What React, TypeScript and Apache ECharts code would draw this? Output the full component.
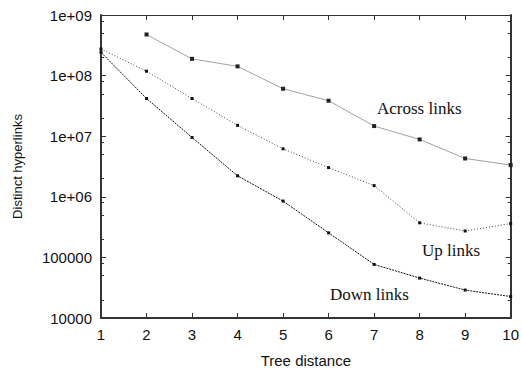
import React, { useEffect, useRef } from "react";
import * as echarts from "echarts";

const distances = [1, 2, 3, 4, 5, 6, 7, 8, 9, 10];
const acrossLinks: (number | null)[] = [null, 4.77e8, 1.89e8, 1.42e8, 6.07e7, 3.85e7, 1.47e7, 8.85e6, 4.29e6, 3.34e6];
const upLinks = [2.74e8, 1.18e8, 4.19e7, 1.51e7, 6.2e6, 3.03e6, 1.53e6, 3.72e5, 2.73e5, 3.62e5];
const downLinks = [2.42e8, 4.19e7, 9.53e6, 2.22e6, 8.5e5, 2.54e5, 7.66e4, 4.56e4, 2.89e4, 2.26e4];
const yTickLabels: Record<string, string> = {
  "10000": "10000",
  "100000": "100000",
  "1000000": "1e+06",
  "10000000": "1e+07",
  "100000000": "1e+08",
  "1000000000": "1e+09",
};
const minorMultipliers = [2, 5, 8];
const decades = [4, 5, 6, 7, 8];

const minorLogValues: number[] = [];
decades.forEach((d) => minorMultipliers.forEach((m) => minorLogValues.push(d + Math.log10(m))));

const pairs = (vals: (number | null)[]) =>
  distances.map((x, i) => [x, vals[i]]).filter((p) => p[1] !== null);

export default function App() {
  const ref = useRef<HTMLDivElement>(null);
  useEffect(() => {
    if (!ref.current) return;
    const chart = echarts.init(ref.current, null, { renderer: "svg" });
    const sans = "Liberation Sans, Arial, sans-serif";
    const serif = "Liberation Serif, Times New Roman, serif";
    const axisColor = "#333";
    const labelStyle = { color: "#111", fontFamily: sans, fontSize: 15 };
    const minorAxis = (pos: "left" | "right") => ({
      type: "value",
      min: 4,
      max: 9,
      position: pos,
      axisLine: { show: false },
      axisLabel: { show: false },
      splitLine: { show: false },
      axisTick: {
        show: true,
        inside: true,
        length: 3,
        customValues: minorLogValues,
        lineStyle: { color: axisColor, width: 1 },
      },
    });
    chart.setOption({
      animation: false,
      backgroundColor: "#fff",
      grid: { left: 101, right: 9, top: 15, bottom: 47, containLabel: false },
      xAxis: [
        {
          type: "value",
          min: 1,
          max: 10,
          interval: 1,
          position: "bottom",
          name: "Tree distance",
          nameLocation: "middle",
          nameGap: 35,
          nameTextStyle: labelStyle,
          axisLine: { lineStyle: { color: axisColor, width: 2 } },
          axisTick: { inside: true, length: 5, lineStyle: { color: axisColor, width: 1 } },
          axisLabel: { ...labelStyle, margin: 9 },
          splitLine: { show: false },
        },
        {
          type: "value",
          min: 1,
          max: 10,
          interval: 1,
          position: "top",
          axisLine: { lineStyle: { color: axisColor, width: 1.2 } },
          axisTick: { inside: true, length: 5, lineStyle: { color: axisColor, width: 1 } },
          axisLabel: { show: false },
          splitLine: { show: false },
        },
      ],
      yAxis: [
        {
          type: "log",
          logBase: 10,
          min: 1e4,
          max: 1e9,
          position: "left",
          name: "Distinct hyperlinks",
          nameLocation: "middle",
          nameGap: 77,
          nameRotate: 90,
          nameTextStyle: { ...labelStyle, fontSize: 13 },
          axisLine: { show: true, lineStyle: { color: axisColor, width: 2 } },
          axisTick: { show: true, inside: true, length: 5, lineStyle: { color: axisColor, width: 1 } },
          axisLabel: {
            ...labelStyle,
            margin: 9,
            formatter: (v: number) => yTickLabels[String(Math.round(v))] ?? "",
          },
          splitLine: { show: false },
        },
        {
          type: "log",
          logBase: 10,
          min: 1e4,
          max: 1e9,
          position: "right",
          axisLine: { show: true, lineStyle: { color: axisColor, width: 2 } },
          axisTick: { show: true, inside: true, length: 5, lineStyle: { color: axisColor, width: 1 } },
          axisLabel: { show: false },
          splitLine: { show: false },
        },
        minorAxis("left"),
        minorAxis("right"),
      ],
      graphic: [
        { type: "text", left: 377, top: 100, style: { text: "Across links", font: `17px ${serif}`, fill: "#111" } },
        { type: "text", left: 422, top: 242, style: { text: "Up links", font: `17px ${serif}`, fill: "#111" } },
        { type: "text", left: 330, top: 286, style: { text: "Down links", font: `17px ${serif}`, fill: "#111" } },
      ],
      series: [
        {
          name: "Across links",
          type: "line",
          data: pairs(acrossLinks),
          symbol: "rect",
          symbolSize: 4,
          lineStyle: { color: "#a0a0a0", width: 1 },
          itemStyle: { color: "#222" },
        },
        {
          name: "Up links",
          type: "line",
          data: pairs(upLinks),
          symbol: "rect",
          symbolSize: 3,
          lineStyle: { color: "#444", width: 1, type: [1, 2] },
          itemStyle: { color: "#111" },
        },
        {
          name: "Down links",
          type: "line",
          data: pairs(downLinks),
          symbol: "rect",
          symbolSize: 3,
          lineStyle: { color: "#111", width: 1, type: [2, 1] },
          itemStyle: { color: "#111" },
        },
      ],
    });
    return () => chart.dispose();
  }, []);
  return <div ref={ref} style={{ position: "absolute", left: 0, top: 0, width: 522, height: 373 }} />;
}
